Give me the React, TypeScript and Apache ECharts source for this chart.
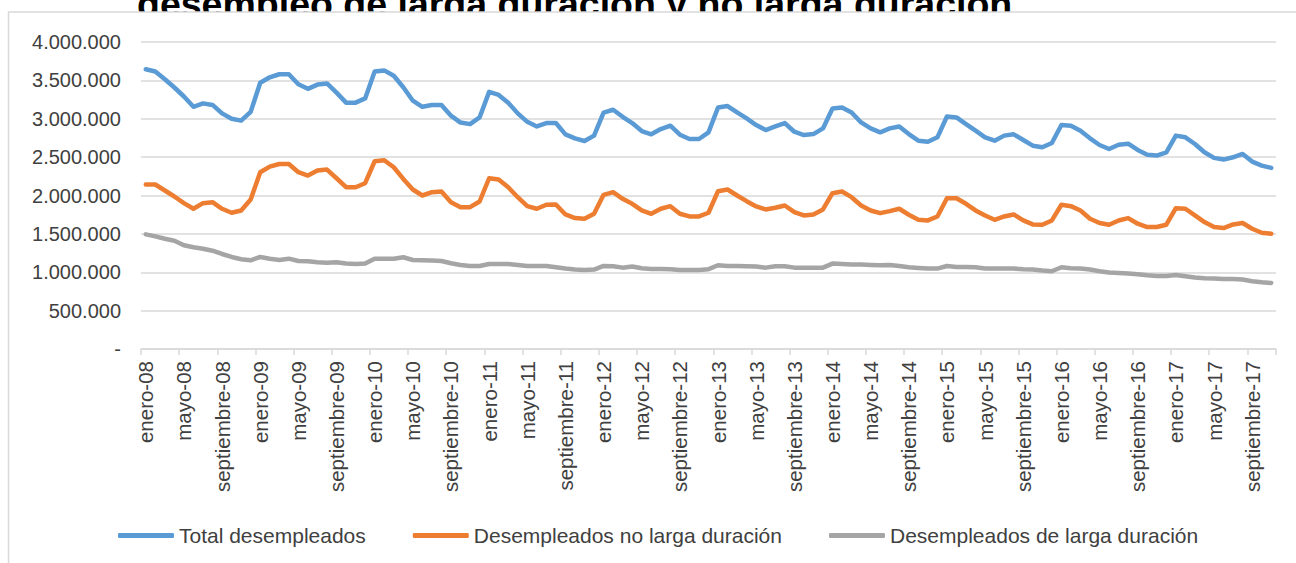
import React, { useEffect, useRef } from "react";
import * as echarts from "echarts";

const MONTHS = ["enero", "febrero", "marzo", "abril", "mayo", "junio", "julio", "agosto", "septiembre", "octubre", "noviembre", "diciembre"];
const YEARS = ["08", "09", "10", "11", "12", "13", "14", "15", "16", "17"];
const MONTH_COUNT = 119; // enero-08 .. noviembre-17

const categories: string[] = [];
for (let y = 0; y < YEARS.length; y++) {
  for (let m = 0; m < 12; m++) {
    if (categories.length < MONTH_COUNT) categories.push(`${MONTHS[m]}-${YEARS[y]}`);
  }
}

const TITLE = "desempleo de larga duración y no larga duración";
const SERIES_NAMES = ["Total desempleados", "Desempleados no larga duración", "Desempleados de larga duración"];

// values in thousands
const totalDesempleados = [
  3645, 3615, 3515, 3407, 3290, 3156, 3200, 3180, 3070, 3000, 2975, 3090,
  3470, 3540, 3580, 3580, 3450, 3390, 3445, 3460, 3340, 3210, 3210, 3265,
  3615, 3630, 3560, 3410, 3235, 3156, 3178, 3180, 3040, 2950, 2930, 3017,
  3350, 3310, 3210, 3070, 2960, 2900, 2944, 2944, 2797, 2745, 2710, 2780,
  3080, 3117, 3026, 2944, 2840, 2797, 2866, 2909, 2792, 2736, 2736, 2823,
  3147, 3165, 3082, 3004, 2918, 2853, 2900, 2944, 2831, 2788, 2800, 2874,
  3134, 3147, 3082, 2952, 2874, 2823, 2874, 2900, 2800, 2714, 2700, 2758,
  3030, 3017, 2930, 2844, 2758, 2714, 2780, 2797, 2723, 2649, 2628, 2684,
  2918, 2909, 2844, 2745, 2658, 2606, 2662, 2675, 2593, 2532, 2520, 2563,
  2780, 2758, 2671, 2563, 2490, 2468, 2498, 2541, 2442, 2390, 2360,
];

const noLargaDuracion = [
  2143, 2143, 2065, 1987, 1900, 1827, 1900, 1913, 1827, 1775, 1805, 1948,
  2303, 2377, 2411, 2411, 2303, 2260, 2325, 2338, 2225, 2108, 2108, 2160,
  2446, 2459, 2368, 2216, 2078, 2000, 2043, 2052, 1913, 1848, 1848, 1922,
  2225, 2208, 2108, 1978, 1861, 1827, 1879, 1883, 1753, 1706, 1697, 1762,
  2009, 2043, 1957, 1892, 1805, 1762, 1827, 1861, 1762, 1727, 1727, 1775,
  2056, 2078, 2000, 1926, 1857, 1818, 1840, 1870, 1784, 1740, 1753, 1818,
  2030, 2052, 1978, 1870, 1805, 1770, 1797, 1827, 1749, 1684, 1675, 1727,
  1965, 1965, 1892, 1805, 1740, 1684, 1727, 1753, 1675, 1623, 1619, 1675,
  1879, 1861, 1805, 1697, 1641, 1619, 1675, 1706, 1632, 1589, 1589, 1619,
  1835, 1827, 1740, 1654, 1589, 1576, 1623, 1641, 1567, 1515, 1502,
];

const largaDuracion = [
  1494, 1468, 1437, 1411, 1351, 1325, 1307, 1281, 1238, 1199, 1169, 1156,
  1199, 1177, 1160, 1177, 1147, 1143, 1130, 1125, 1130, 1113, 1108, 1113,
  1177, 1177, 1177, 1195, 1160, 1156, 1152, 1147, 1117, 1095, 1082, 1082,
  1108, 1108, 1108, 1095, 1082, 1082, 1082, 1065, 1048, 1035, 1030, 1035,
  1082, 1078, 1060, 1074, 1052, 1043, 1043, 1039, 1030, 1030, 1030, 1040,
  1091, 1082, 1082, 1078, 1074, 1060, 1078, 1078, 1060, 1060, 1060, 1060,
  1113, 1108, 1100, 1100, 1095, 1091, 1095, 1082, 1065, 1056, 1048, 1048,
  1082, 1069, 1069, 1065, 1048, 1048, 1048, 1048, 1039, 1035, 1022, 1013,
  1065, 1052, 1048, 1035, 1013, 996, 991, 983, 974, 961, 952, 952,
  965, 948, 931, 922, 918, 913, 913, 905, 883, 870, 861,
];

const COLORS = ["#5B9BD5", "#ED7D31", "#A5A5A5"];
const FONT = "'Liberation Sans', Arial, sans-serif";
const TEXT_COLOR = "#404040";
const GRID_COLOR = "#d9d9d9";

function fmt(v: number): string {
  if (v === 0) return "-";
  return String(Math.round(v)).replace(/\B(?=(\d{3})+(?!\d))/g, ".");
}

export default function App() {
  const ref = useRef<HTMLDivElement>(null);
  useEffect(() => {
    if (!ref.current) return;
    const chart = echarts.init(ref.current, undefined, { renderer: "svg" });
    const toUnits = (arr: number[]) => arr.map((v) => v * 1000);
    const seriesData = [toUnits(totalDesempleados), toUnits(noLargaDuracion), toUnits(largaDuracion)];
    chart.setOption({
      animation: false,
      backgroundColor: "#ffffff",
      textStyle: { fontFamily: FONT },
      graphic: [
        {
          type: "text",
          z: -20,
          x: 137,
          y: 23,
          style: {
            text: TITLE,
            font: `bold 37.5px ${FONT}`,
            fill: "#000000",
            verticalAlign: "bottom",
            align: "left",
          },
        },
        {
          type: "rect",
          z: -10,
          shape: { x: 8.5, y: 12, width: 1320, height: 600 },
          style: { fill: "#ffffff", stroke: GRID_COLOR, lineWidth: 1.5 },
        },
      ],
      grid: {
        left: 141,
        right: 20,
        top: 42,
        bottom: 214,
        containLabel: false,
        outerBoundsMode: "none",
      },
      legend: {
        left: 118,
        top: 525,
        padding: 0,
        itemWidth: 56,
        itemHeight: 5,
        itemGap: 47,
        icon: "roundRect",
        data: SERIES_NAMES,
        textStyle: { fontSize: 21, color: TEXT_COLOR, fontFamily: FONT },
      },
      xAxis: {
        type: "category",
        data: categories,
        boundaryGap: true,
        axisLine: { show: true, lineStyle: { color: GRID_COLOR, width: 1.5 } },
        axisTick: { show: true, interval: 3, length: 6, alignWithLabel: false, lineStyle: { color: GRID_COLOR, width: 1.5 } },
        axisLabel: {
          interval: 3,
          rotate: 90,
          margin: 12,
          fontSize: 20.5,
          color: TEXT_COLOR,
          fontFamily: FONT,
        },
        splitLine: { show: false },
      },
      yAxis: {
        type: "value",
        min: 0,
        max: 4000000,
        interval: 500000,
        axisLine: { show: false },
        axisTick: { show: false },
        axisLabel: {
          margin: 20,
          fontSize: 20,
          color: TEXT_COLOR,
          fontFamily: FONT,
          formatter: (v: number) => fmt(v),
        },
        splitLine: { show: true, lineStyle: { color: GRID_COLOR, width: 1.5 } },
      },
      series: SERIES_NAMES.map((name, i) => ({
        name,
        type: "line",
        data: seriesData[i],
        showSymbol: false,
        symbol: "none",
        smooth: false,
        color: COLORS[i],
        lineStyle: { width: 4.5, color: COLORS[i], cap: "round", join: "round" },
        emphasis: { disabled: true },
      })),
    });
    return () => chart.dispose();
  }, []);
  return (
    <div
      ref={ref}
      style={{ position: "absolute", left: 0, top: 0, width: 1296, height: 563, background: "#fff" }}
    />
  );
}
